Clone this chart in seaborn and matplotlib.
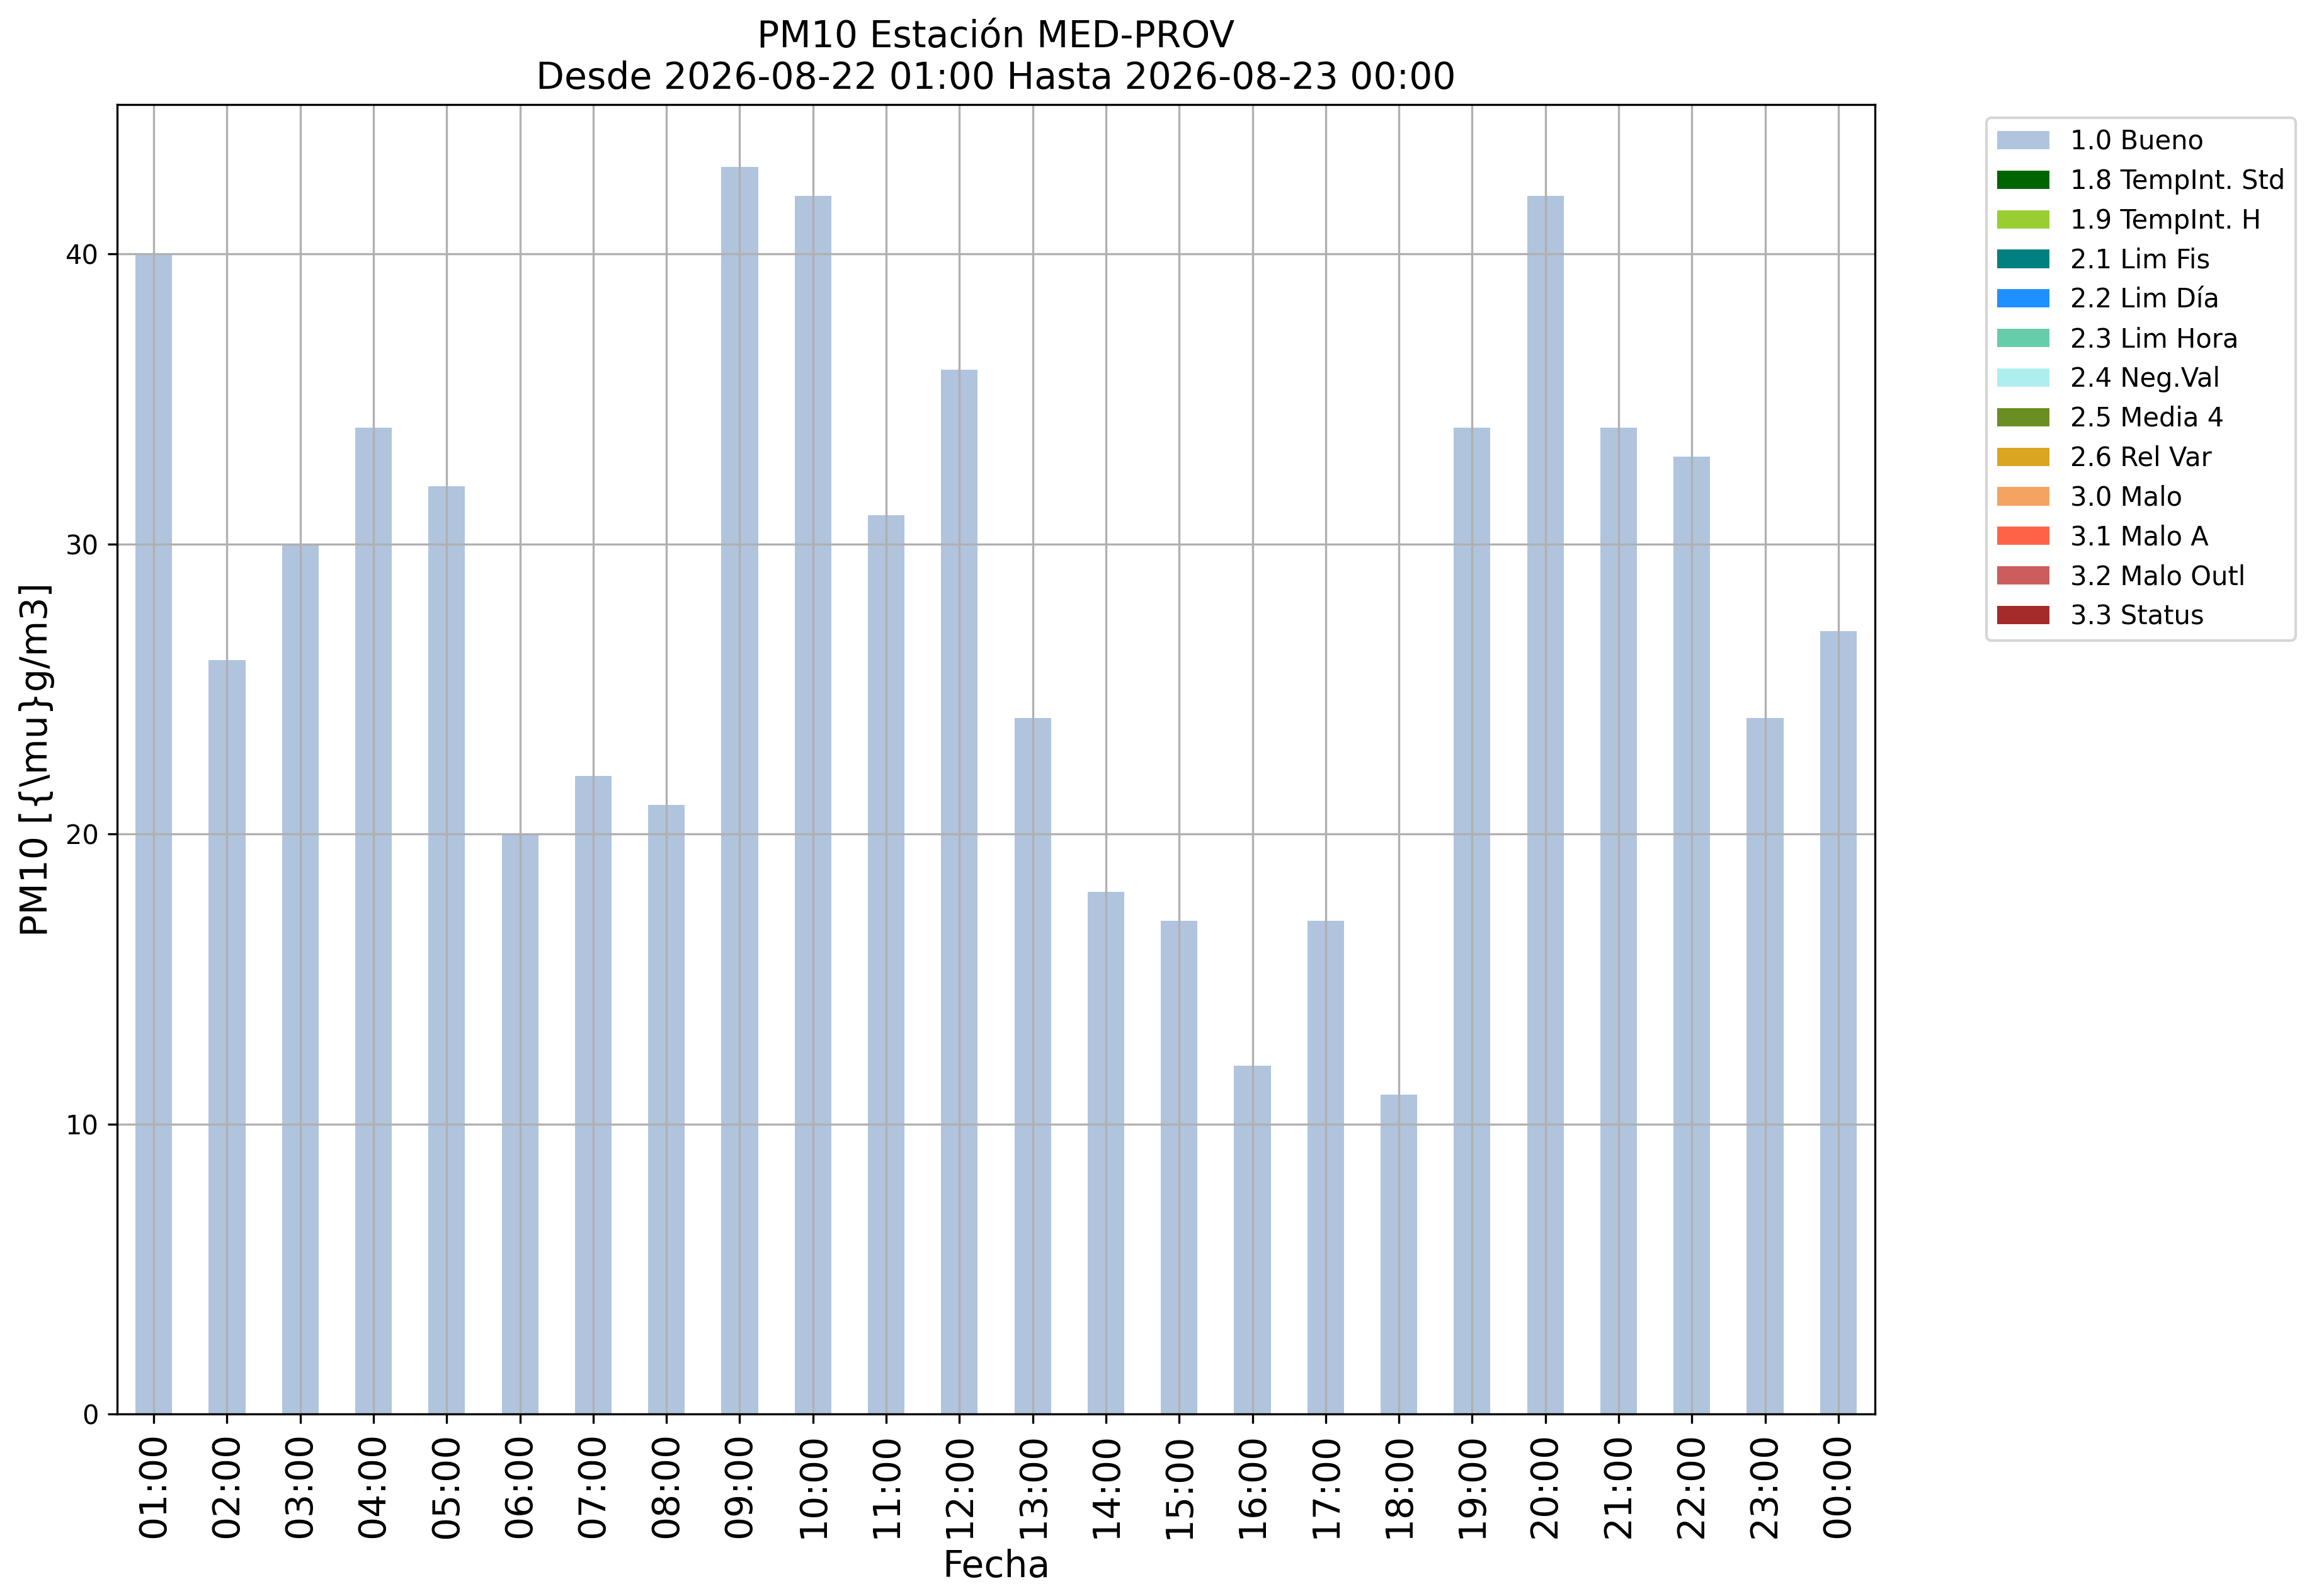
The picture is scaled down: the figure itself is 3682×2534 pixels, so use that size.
import matplotlib
matplotlib.use("Agg")
import matplotlib.pyplot as plt
import seaborn as sns
import pandas as pd

horas = ["01:00", "02:00", "03:00", "04:00", "05:00", "06:00", "07:00", "08:00",
         "09:00", "10:00", "11:00", "12:00", "13:00", "14:00", "15:00", "16:00",
         "17:00", "18:00", "19:00", "20:00", "21:00", "22:00", "23:00", "00:00"]
valores = [40, 26, 30, 34, 32, 20, 22, 21, 43, 42, 31, 36, 24, 18, 17, 12,
           17, 11, 34, 42, 34, 33, 24, 27]
flags = ["1.0 Bueno", "1.8 TempInt. Std", "1.9 TempInt. H", "2.1 Lim Fis",
         "2.2 Lim Día", "2.3 Lim Hora", "2.4 Neg.Val", "2.5 Media 4",
         "2.6 Rel Var", "3.0 Malo", "3.1 Malo A", "3.2 Malo Outl", "3.3 Status"]
colores = ["lightsteelblue", "darkgreen", "yellowgreen", "teal", "dodgerblue",
           "mediumaquamarine", "paleturquoise", "olivedrab", "goldenrod",
           "sandybrown", "tomato", "indianred", "brown"]
# all measurements have flag "1.0 Bueno"
flag_medida = ["1.0 Bueno"] * len(valores)

rows = []
for h, v, fm in zip(horas, valores, flag_medida):
    for f in flags:
        rows.append({"Fecha": h, "valor": v if f == fm else 0, "flag": f})
df = pd.DataFrame(rows)

plt.rcParams['font.family'] = ['DejaVu Sans']
fig = plt.figure(figsize=(3682 / 300, 2534 / 300), dpi=300)
ax = fig.add_axes([186 / 3682, 1 - 2245 / 2534, (2977 - 186) / 3682, (2245 - 166) / 2534])

sns.barplot(data=df, x="Fecha", y="valor", hue="flag", hue_order=flags,
            order=horas, palette=dict(zip(flags, colores)), dodge=False,
            width=0.5, errorbar=None, saturation=1, ax=ax, legend=True)

ax.set_xlim(-0.5, len(horas) - 0.5)
ax.set_ylim(0, 45.15)
ax.set_yticks([0, 10, 20, 30, 40])
ax.grid(True)
ax.tick_params(axis='x', labelsize=14, labelrotation=90)
ax.tick_params(axis='y', labelsize=10)
ax.set_xlabel("Fecha", fontsize=14)
ax.set_ylabel("PM10 [{\\mu}g/m3]", fontsize=14)
ax.set_title("PM10 Estación MED-PROV\nDesde 2026-08-22 01:00 Hasta 2026-08-23 00:00",
             fontsize=14)

handles, labels = ax.get_legend_handles_labels()
ax.legend(handles, labels, loc="upper left", bbox_to_anchor=(1.0634, 0.9897),
          borderaxespad=0, fontsize=10)

fig.savefig("out.png", dpi=300)
